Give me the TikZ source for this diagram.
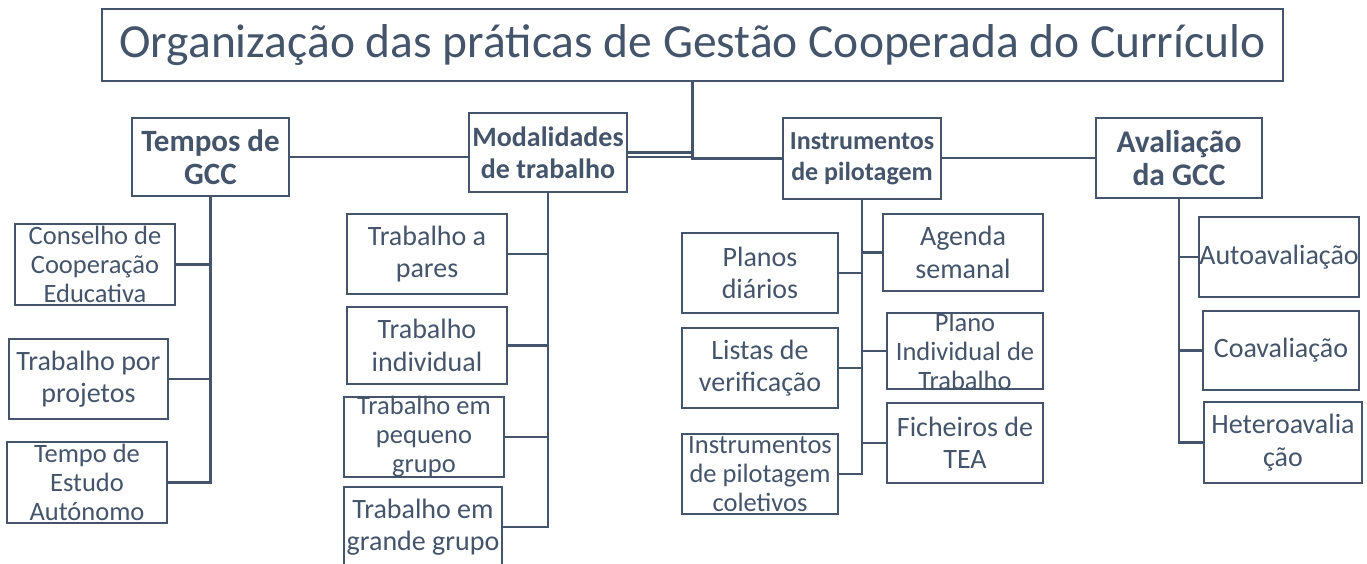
\documentclass[tikz,border=0pt]{standalone}
\usepackage{fontspec}
\setmainfont{Carlito}
\usetikzlibrary{backgrounds}
\definecolor{slate}{HTML}{44546A}
\newcommand{\cellbox}[3]{\parbox[c][#2pt][c]{#1pt}{\centering #3}}

\begin{document}
\begin{tikzpicture}[x=1pt, y=-1pt,
  box/.style={draw=slate, fill=white, line width=1.8pt, inner sep=0pt, text=slate},
  head/.style 2 args={box, font=\bfseries\fontsize{#1}{#2}\selectfont},
  leaf/.style={box, font=\fontsize{28}{32.5}\selectfont},
  small/.style={box, font=\fontsize{26.5}{29}\selectfont},
  link/.style={draw=slate, line width=2.4pt, to path={|- (\tikztotarget)}}]
\useasboundingbox (0,0) rectangle (1367,563);
% titulo e grupos
\node[box, font=\fontsize{47.5}{56}\selectfont] (titulo) at (692.5,45) {\cellbox{1181}{72}{Organização das práticas de Gestão Cooperada do Currículo}};
\node[head={31}{33.5}] (tempos) at (210.5,157) {\cellbox{157}{78}{Tempos de\\GCC}};
\node[head={28}{32}] (modal) at (548,152.5) {\cellbox{158}{79}{Modalidades\\de trabalho}};
\node[head={26}{31}] (instr) at (862,158.5) {\cellbox{158}{81}{Instrumentos\\de pilotagem}};
\node[head={31.5}{32.5}] (aval) at (1179,158) {\cellbox{166}{80}{Avaliação\\da GCC}};
% tempos de GCC
\node[small] (cce) at (95,264.5) {\cellbox{160}{81}{Conselho de\\Cooperação\\Educativa}};
\node[leaf] (proj) at (88.5,379) {\cellbox{159}{80}{Trabalho por\\projetos}};
\node[small] (tea) at (87,482.5) {\cellbox{160}{81}{Tempo de\\Estudo\\Autónomo}};
% modalidades
\node[leaf] (pares) at (427,254) {\cellbox{160}{80}{Trabalho a\\pares}};
\node[leaf] (indiv) at (427,345.5) {\cellbox{160}{77}{Trabalho\\individual}};
\node[small] (pequeno) at (424,437) {\cellbox{160}{80}{Trabalho em\\pequeno\\grupo}};
\node[leaf] (grande) at (423,527) {\cellbox{158}{80}{Trabalho em\\grande grupo}};
% instrumentos
\node[leaf] (planos) at (760,273) {\cellbox{156}{80}{Planos\\diários}};
\node[leaf] (listas) at (760,368) {\cellbox{156}{80}{Listas de\\verificação}};
\node[small] (coletivos) at (760,474) {\cellbox{156}{80}{Instrumentos\\de pilotagem\\coletivos}};
\node[leaf] (agenda) at (963,252.5) {\cellbox{160}{77}{Agenda\\semanal}};
\node[small] (pit) at (965,351) {\cellbox{156}{76}{Plano\\Individual de\\Trabalho}};
\node[leaf] (ficheiros) at (965,443) {\cellbox{156}{80}{Ficheiros de\\TEA}};
% avaliacao
\node[leaf] (auto) at (1279,257) {\cellbox{160}{80}{Autoavaliação}};
\node[leaf] (coav) at (1281,350.5) {\cellbox{156}{79}{Coavaliação}};
\node[leaf] (hetero) at (1283,442.5) {\cellbox{158}{81}{Heteroavalia\\ção}};
\begin{scope}[on background layer]
\path[link] (titulo.south) edge (tempos.east) edge (modal.east)
  edge (instr.west) edge (aval.west);
\path[link] (tempos.south) edge (cce.east) edge (proj.east) edge (tea.east);
\path[link] (modal.south) edge (pares.east) edge (indiv.east)
  edge (pequeno.east) edge (grande.east);
\path[link] (instr.south) edge (planos.east) edge (listas.east)
  edge (coletivos.east) edge (agenda.west) edge (pit.west) edge (ficheiros.west);
\path[link] (aval.south) edge (auto.west) edge (coav.west) edge (hetero.west);
\end{scope}
\end{tikzpicture}
\end{document}
